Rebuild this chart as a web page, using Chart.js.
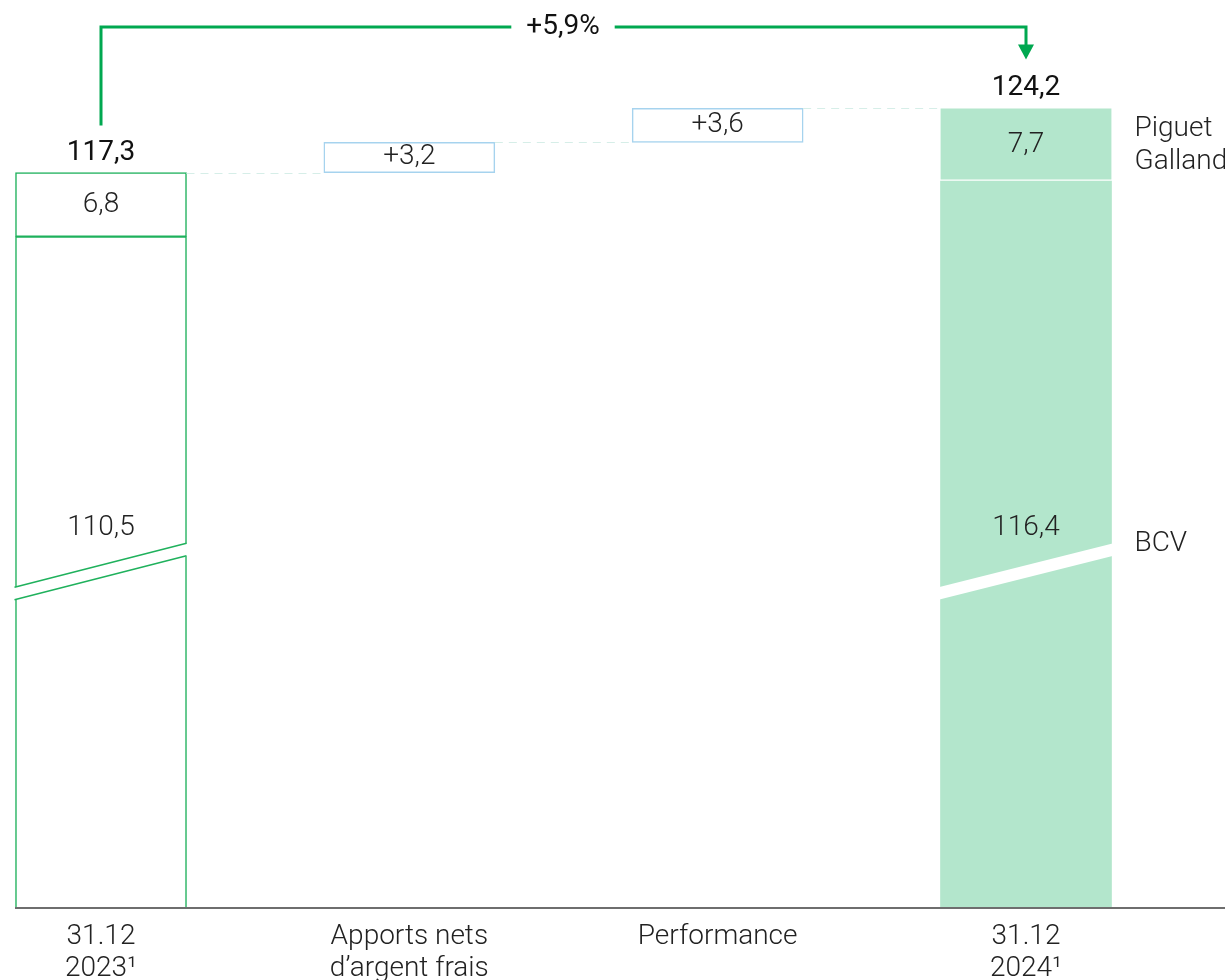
<!DOCTYPE html>
<html>
<head>
<meta charset="utf-8">
<script src="https://cdn.jsdelivr.net/npm/chart.js@4/dist/chart.umd.min.js"></script>
<style>
  html, body { margin: 0; padding: 0; background: #fff; }
  #wrap { width: 1225px; height: 980px; position: relative; }
</style>
</head>
<body>
<div id="wrap"><canvas id="chart"></canvas></div>
<script>
// values in CHF bn
var categories = [['31.12', '2023\u00b9'], ['Apports nets', 'd\u2019argent frais'], 'Performance', ['31.12', '2024\u00b9']];
var bcv = [110.5, null, null, 116.4];
var piguet = [6.8, null, null, 7.7];
var changes = [null, 3.2, 3.6, null];
var totals = [117.3, null, null, 124.2];
var growthLabel = '+5,9%';

var AXIS_MIN = 39.3;   // axis is cut, bars start here
var AXIS_MAX = 135.6;
var BREAK_VALUE = 75;

var GREEN = '#00a850';
var OUTLINE = '#1fb15c';
var FILL = '#b3e6cc';
var BLUE = '#a6d3ee';
var TEXT = '#222222';

function fmt(v) { return v.toFixed(1).replace('.', ','); }

// floating segments built from the arrays above
var bcvData = bcv.map(function (v) { return v == null ? null : [AXIS_MIN, v]; });
var pgData = piguet.map(function (v, i) { return v == null ? null : [bcv[i], bcv[i] + v]; });
var running = totals[0];
var changeData = changes.map(function (v) {
  if (v == null) return null;
  var seg = [running, running + v];
  running += v;
  return seg;
});

var overlay = {
  id: 'overlay',
  afterDatasetsDraw: function (chart) {
    var ctx = chart.ctx;
    var y = chart.scales.y;
    var area = chart.chartArea;
    var bcvMeta = chart.getDatasetMeta(0);
    var pgMeta = chart.getDatasetMeta(1);
    var chMeta = chart.getDatasetMeta(2);

    // x axis line, full width
    ctx.save();
    ctx.strokeStyle = '#6e6e6e';
    ctx.lineWidth = 2;
    ctx.beginPath();
    ctx.moveTo(15, area.bottom);
    ctx.lineTo(chart.width, area.bottom);
    ctx.stroke();

    // dashed connectors
    ctx.strokeStyle = '#d6eee8';
    ctx.lineWidth = 1;
    ctx.setLineDash([8, 6]);
    var tops = [pgMeta.data[0], chMeta.data[1], chMeta.data[2], pgMeta.data[3]];
    for (var i = 0; i < 3; i++) {
      var a = tops[i], b = tops[i + 1];
      ctx.beginPath();
      ctx.moveTo(a.x + a.width / 2, Math.round(a.y) + 0.5);
      ctx.lineTo(b.x - b.width / 2, Math.round(a.y) + 0.5);
      ctx.stroke();
    }
    ctx.setLineDash([]);

    // axis break on the two total bars
    var y0 = y.getPixelForValue(BREAK_VALUE);
    [0, 3].forEach(function (idx) {
      var bar = bcvMeta.data[idx];
      var L = bar.x - bar.width / 2, R = bar.x + bar.width / 2;
      var tilt = 22, half = 6.25;
      ctx.fillStyle = '#fff';
      ctx.beginPath();
      ctx.moveTo(L - 2, y0 + tilt - half);
      ctx.lineTo(R + 2, y0 - tilt - half);
      ctx.lineTo(R + 2, y0 - tilt + half);
      ctx.lineTo(L - 2, y0 + tilt + half);
      ctx.closePath();
      ctx.fill();
      if (idx === 0) {
        ctx.strokeStyle = OUTLINE;
        ctx.lineWidth = 1.5;
        ctx.beginPath();
        ctx.moveTo(L - 1, y0 + tilt - half);
        ctx.lineTo(R, y0 - tilt - half);
        ctx.moveTo(L - 1, y0 + tilt + half);
        ctx.lineTo(R, y0 - tilt + half);
        ctx.stroke();
      }
    });

    // value labels
    ctx.textAlign = 'center';
    ctx.textBaseline = 'middle';
    ctx.fillStyle = TEXT;
    ctx.font = '300 28px Roboto';
    [0, 3].forEach(function (idx) {
      var pg = pgMeta.data[idx];
      ctx.fillText(fmt(piguet[idx]), pg.x, (pg.y + pg.base) / 2);
      ctx.fillText(fmt(bcv[idx]), pg.x, y0 - 43);
    });
    [1, 2].forEach(function (idx) {
      var c = chMeta.data[idx];
      ctx.fillText('+' + fmt(changes[idx]), c.x, (c.y + c.base) / 2);
    });
    ctx.fillStyle = '#111';
    ctx.font = '400 28px Roboto';
    [0, 3].forEach(function (idx) {
      var pg = pgMeta.data[idx];
      ctx.fillText(fmt(totals[idx]), pg.x, pg.y - 20);
    });

    // series names on the right
    var last = pgMeta.data[3];
    var rx = last.x + last.width / 2 + 23;
    var pgMid = (last.y + last.base) / 2;
    ctx.textAlign = 'left';
    ctx.fillStyle = TEXT;
    ctx.font = '300 28px Roboto';
    ctx.fillText('Piguet', rx, pgMid - 16);
    ctx.fillText('Galland', rx, pgMid + 17);
    ctx.fillText('BCV', rx, y0 - 27);

    // growth arrow
    var first = pgMeta.data[0];
    var lineY = 27;
    ctx.strokeStyle = GREEN;
    ctx.lineWidth = 3;
    ctx.beginPath();
    ctx.moveTo(first.x, first.y - 47);
    ctx.lineTo(first.x, lineY);
    ctx.lineTo(last.x, lineY);
    ctx.lineTo(last.x, last.y - 62);
    ctx.stroke();
    ctx.fillStyle = GREEN;
    ctx.beginPath();
    ctx.moveTo(last.x - 8, last.y - 64);
    ctx.lineTo(last.x + 8, last.y - 64);
    ctx.lineTo(last.x, last.y - 49);
    ctx.closePath();
    ctx.fill();

    ctx.font = '400 28px Roboto';
    ctx.textAlign = 'center';
    var midX = 563;
    var tw = ctx.measureText(growthLabel).width;
    ctx.fillStyle = '#fff';
    ctx.fillRect(midX - tw / 2 - 15, lineY - 6, tw + 30, 12);
    ctx.fillStyle = '#111';
    ctx.fillText(growthLabel, midX, lineY);
    ctx.restore();
  }
};

new Chart(document.getElementById('chart'), {
  type: 'bar',
  data: {
    labels: categories,
    datasets: [
      {
        label: 'BCV',
        data: bcvData,
        backgroundColor: ['#fff', '#fff', '#fff', FILL],
        borderColor: [OUTLINE, OUTLINE, OUTLINE, FILL],
        borderWidth: [1.5, 0, 0, 0],
        borderSkipped: false
      },
      {
        label: 'Piguet Galland',
        data: pgData,
        backgroundColor: ['#fff', '#fff', '#fff', FILL],
        borderColor: [OUTLINE, OUTLINE, OUTLINE, '#fff'],
        borderWidth: function (c) {
          return c.dataIndex === 3 ? { top: 0, left: 0, right: 0, bottom: 2 } : 1.5;
        },
        borderSkipped: false
      },
      {
        label: 'Variation',
        data: changeData,
        backgroundColor: '#fff',
        borderColor: BLUE,
        borderWidth: 1.5,
        borderSkipped: false
      }
    ]
  },
  options: {
    responsive: true,
    maintainAspectRatio: false,
    animation: false,
    devicePixelRatio: 1,
    layout: { padding: { left: 101, right: 199, top: 0, bottom: -9.5 } },
    datasets: { bar: { grouped: false, barThickness: 171, clip: false } },
    plugins: { legend: { display: false }, tooltip: { enabled: false } },
    scales: {
      x: {
        offset: false,
        grid: { display: false },
        border: { display: false },
        ticks: {
          color: TEXT,
          padding: 4.5,
          maxRotation: 0,
          autoSkip: false,
          font: { family: 'Roboto', size: 28, weight: 300, lineHeight: 1.15 }
        }
      },
      y: { display: false, min: AXIS_MIN, max: AXIS_MAX }
    }
  },
  plugins: [overlay]
});
</script>
</body>
</html>
